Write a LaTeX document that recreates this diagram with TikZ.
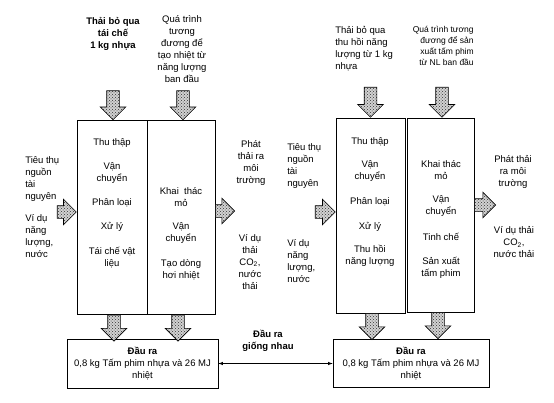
\documentclass[tikz,border=0pt]{standalone}
\usepackage{fontspec}
\setmainfont{Liberation Sans}
\usetikzlibrary{shapes.arrows,patterns}

\tikzset{
  lbl/.style={align=center, inner sep=0pt, font=\fontsize{9.5}{12}\selectfont},
  lbll/.style={lbl, align=left},
  bold/.style={lbl, font=\fontsize{9.5}{12}\selectfont\bfseries},
  colbox/.style={draw, inner sep=0pt, minimum width=#1, minimum height=194pt},
  outbox/.style={draw, inner sep=0pt, minimum height=49pt, minimum width=#1, align=center, font=\fontsize{9.5}{12}\selectfont},
  barrow/.style={single arrow, draw, inner sep=6pt, single arrow head extend=6.5pt, minimum height=#1,
    preaction={fill=gray!35}, pattern=crosshatch dots, pattern color=gray!40!black},
}

\begin{document}
\begin{tikzpicture}[x=1pt, y=-1pt, line width=0.6pt]
\useasboundingbox (0,0) rectangle (554,402);

% ---- left: recycling
\node[colbox=70pt] (colA) at (112,217.5) {};
\node[colbox=68pt] (colB) at (181,217.5) {};
\node[outbox=151pt] (outL) at (142.5,363.5) {\textbf{Đầu ra}\\0,8 kg Tấm phim nhựa và 26 MJ\\nhiệt};

\node[bold] (topA) at (113,33.5) {Thải bỏ qua\\tái chế\\1 kg nhựa};
\node[lbl] (topB) at (182,49) {Quá trình\\tương\\đương để\\tạo nhiệt từ\\năng lượng\\ban đầu};
\node[lbll, anchor=west] (resA) at (25,179.5) {Tiêu thụ\\nguồn\\tài\\nguyên};
\node[lbll, anchor=west] (exA) at (25,236) {Ví dụ\\năng\\lượng,\\nước};
\node[lbl] (emA) at (251,163) {Phát\\thải ra\\môi\\trường};
\node[lbl] (wsA) at (250,262) {Ví dụ\\thải\\CO\textsubscript{2},\\nước\\thải};

\foreach \yy/\tt [count=\i] in {143/Thu thập, 173/{Vận\\chuyển}, 203/Phân loại, 227/Xử lý, 258/{Tái chế vật\\liệu}}
  \node[lbl] (stA\i) at (112,\yy) {\tt};
\foreach \yy/\tt [count=\i] in {197/{Khai\ \ thác\\mỏ}, 233/{Vận\\chuyển}, 270/{Tạo dòng\\hơi nhiệt}}
  \node[lbl] (stB\i) at (181,\yy) {\tt};

\node[barrow=29pt, rotate=-90, anchor=tip] (inA) at ([xshift=1pt]colA.north) {};
\node[barrow=29pt, rotate=-90, anchor=tip] (inB) at ([xshift=2pt]colB.north) {};
\node[barrow=19pt, anchor=tip] (resinA) at (colA.west |- 0,212) {};
\node[barrow=19pt, anchor=tail] (emoutA) at (colB.east |- 0,211) {};
\node[barrow=26pt, rotate=-90, anchor=tail] (downA) at ([xshift=2pt]colA.south) {};
\node[barrow=26pt, rotate=-90, anchor=tail] (downB) at ([xshift=-3pt]colB.south) {};

% ---- right: energy recovery
\node[colbox=69pt, minimum height=195pt] (colC) at (370.5,215.5) {};
\node[colbox=67pt] (colD) at (440.5,215) {};
\node[outbox=156pt, minimum height=48pt] (outR) at (411,363.5) {\textbf{Đầu ra}\\0,8 kg Tấm phim nhựa và 26 MJ\\nhiệt};

\node[lbll, anchor=west] (topC) at (335,49) {Thải bỏ qua\\thu hồi năng\\lượng từ 1 kg\\nhựa};
\node[lbl, align=right, anchor=east, font=\fontsize{8.5}{10.8}\selectfont] (topD) at (474,46) {Quá trình tương\\đương để sản\\xuất tấm phim\\từ NL ban đầu};
\node[lbll, anchor=west] (resC) at (287,166) {Tiêu thụ\\nguồn\\tài\\nguyên};
\node[lbll, anchor=west] (exC) at (287,261) {Ví dụ\\năng\\lượng,\\nước};
\node[lbl] (emC) at (513,172) {Phát thải\\ra môi\\trường};
\node[lbl] (wsC) at (514,242) {Ví dụ thải\\CO\textsubscript{2},\\nước thải};

\foreach \yy/\tt [count=\i] in {142/Thu thập, 171/{Vận\\chuyển}, 202/Phân loại, 227/Xử lý, 256/{Thu hồi\\năng lượng}}
  \node[lbl] (stC\i) at (370,\yy) {\tt};
\foreach \yy/\tt [count=\i] in {170/{Khai thác\\mỏ}, 206/{Vận\\chuyển}, 237/Tinh chế, 268/{Sản xuất\\tấm phim}}
  \node[lbl] (stD\i) at (441,\yy) {\tt};

\node[barrow=30pt, rotate=-90, anchor=tip] (inC) at (colC.north) {};
\node[barrow=30pt, rotate=-90, anchor=tip] (inD) at ([xshift=1.5pt]colD.north) {};
\node[barrow=20pt, anchor=tip] (resinC) at (colC.west |- 0,212) {};
\node[barrow=21pt, anchor=tail] (emoutD) at (colD.east |- 0,205) {};
\node[barrow=26pt, rotate=-90, anchor=tail] (downC) at ([xshift=1.5pt]colC.south) {};
\node[barrow=26pt, rotate=-90, anchor=tail] (downD) at ([xshift=-2.5pt]colD.south) {};

% ---- same output
\node[bold] (same) at (268,341) {Đầu ra\\giống nhau};
\draw[<->, >=latex] (outL.east) -- (outR.west);
\end{tikzpicture}
\end{document}
